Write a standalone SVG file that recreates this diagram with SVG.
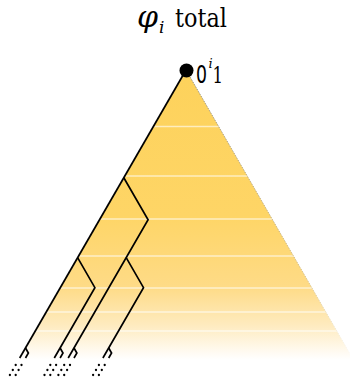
<svg xmlns="http://www.w3.org/2000/svg" xmlns:xlink="http://www.w3.org/1999/xlink" width="350" height="378" viewBox="0 0 350 378">
<defs>
<linearGradient id="fillGrad" gradientUnits="userSpaceOnUse" x1="0" y1="70" x2="0" y2="360">
<stop offset="0" stop-color="#fdd25b"/>
<stop offset="0.5" stop-color="#fed566"/>
<stop offset="0.75" stop-color="#fedb87"/>
<stop offset="0.88" stop-color="#feebbf"/>
<stop offset="0.97" stop-color="#fffaf0"/>
<stop offset="1" stop-color="#ffffff"/>
</linearGradient>
<linearGradient id="edgeGrad" gradientUnits="userSpaceOnUse" x1="0" y1="70" x2="0" y2="360">
<stop offset="0" stop-color="#777"/>
<stop offset="0.7" stop-color="#c9b070"/>
<stop offset="1" stop-color="#fff"/>
</linearGradient>
<clipPath id="triClip">
<polygon points="186,70 359.2,370 12.8,370"/>
</clipPath>
<g id="tip">
<path class="edge" d="M0,0 L2.887,5 L0,10"/>
<circle class="dot" cx="-9.8" cy="17" r="1.15"/>
<circle class="dot" cx="-12.7" cy="22" r="1.15"/>
<circle class="dot" cx="-15.6" cy="27" r="1.15"/>
<circle class="dot" cx="-4.0" cy="17" r="1.15"/>
<circle class="dot" cx="-6.9" cy="22" r="1.15"/>
<circle class="dot" cx="-9.8" cy="27" r="1.15"/>
</g>
</defs>
<style>
.edge{fill:none;stroke:#000;stroke-width:1.7;stroke-linejoin:miter;stroke-linecap:butt}
.dot{fill:#000}
.band{stroke:#fff;stroke-opacity:0.6;stroke-width:1.6}
.ser{font-family:'DejaVu Serif','Liberation Serif',serif}
</style>
<g id="triangle">
<polygon points="186,70 359.2,370 12.8,370" fill="url(#fillGrad)"/>
<g clip-path="url(#triClip)">
<line class="band" x1="0" y1="126.5" x2="350" y2="126.5"/>
<line class="band" x1="0" y1="176" x2="350" y2="176"/>
<line class="band" x1="0" y1="219" x2="350" y2="219"/>
<line class="band" x1="0" y1="256" x2="350" y2="256"/>
<line class="band" x1="0" y1="288" x2="350" y2="288"/>
<line class="band" x1="0" y1="312" x2="350" y2="312"/>
<line class="band" x1="0" y1="331" x2="350" y2="331"/>
</g>
<line x1="186" y1="70" x2="353" y2="359" stroke="url(#edgeGrad)" stroke-width="0.9" stroke-dasharray="1 1"/>
</g>
<g id="connectors">
<path class="edge" d="M186,70 L19.7,358"/>
<path class="edge" d="M123.8,177.7 L148.1,219.7 L68.2,358"/>
<path class="edge" d="M77.6,257.7 L94.9,287.7 L54.3,358"/>
<path class="edge" d="M126.2,257.7 L143.5,287.7 L102.9,358"/>
<use xlink:href="#tip" href="#tip" x="25.5" y="348"/>
<use xlink:href="#tip" href="#tip" x="60.1" y="348"/>
<use xlink:href="#tip" href="#tip" x="74.0" y="348"/>
<use xlink:href="#tip" href="#tip" x="108.7" y="348"/>
</g>
<g id="root">
<circle cx="186.5" cy="70.5" r="7" fill="#000"/>
<text x="196" y="83" font-family="'DejaVu Sans', sans-serif" font-size="24" textLength="11" lengthAdjust="spacingAndGlyphs">0</text>
<text class="ser" x="208.5" y="68" font-size="13" font-style="italic">i</text>
<text class="ser" x="212.5" y="83" font-size="22" textLength="10.5" lengthAdjust="spacingAndGlyphs">1</text>
</g>
<g id="title">
<text class="ser" x="137" y="27" font-size="30" font-style="italic" textLength="21" lengthAdjust="spacingAndGlyphs">φ</text>
<text class="ser" x="159" y="33" font-size="17" font-style="italic">i</text>
<text class="ser" x="175" y="27" font-size="26" textLength="52" lengthAdjust="spacingAndGlyphs">total</text>
</g>
</svg>
